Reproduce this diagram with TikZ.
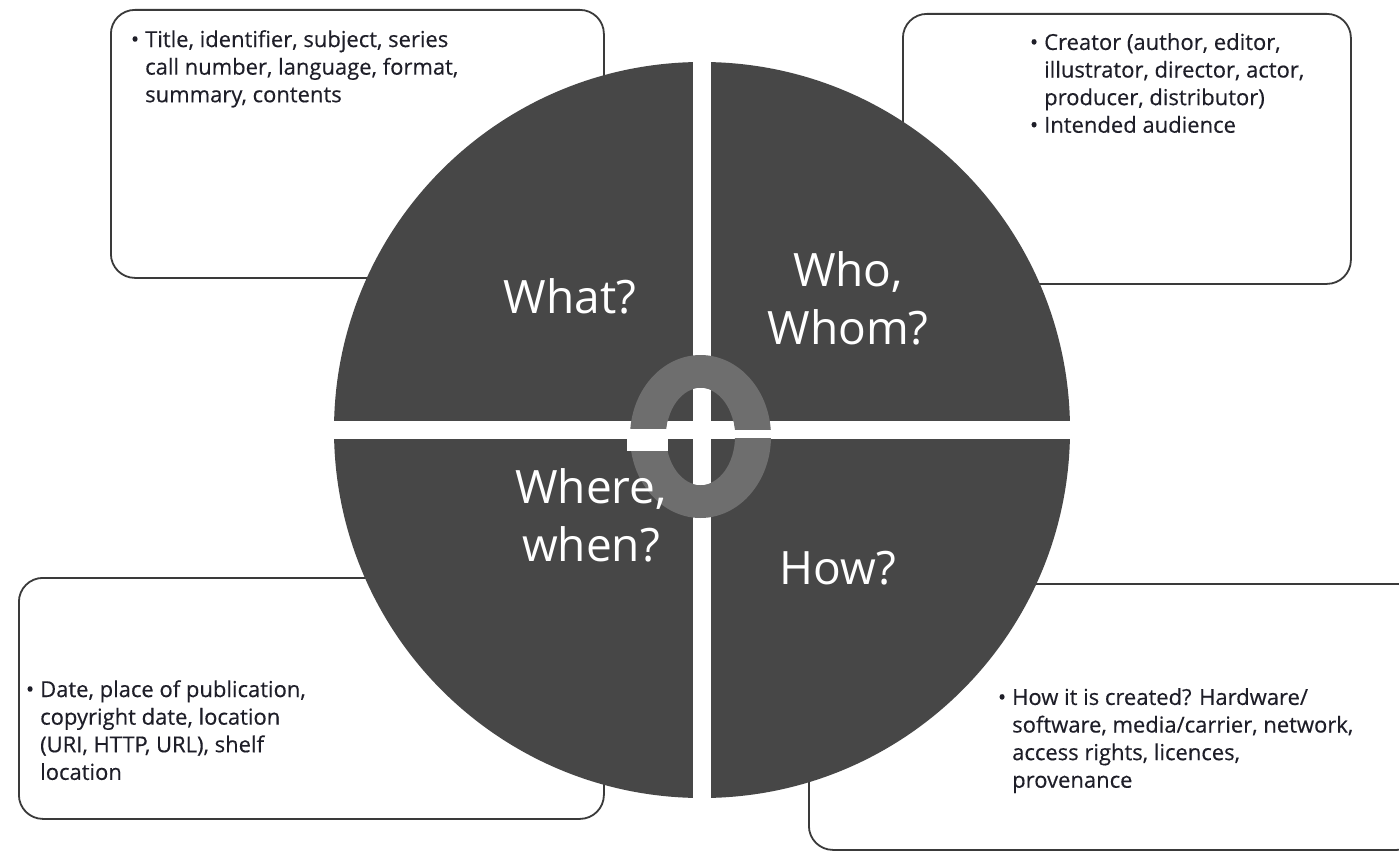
\documentclass[tikz,border=0pt]{standalone}
\usepackage{fontspec}
\setmainfont{Open Sans}
\newfontfamily\boxfont[FakeBold=0.35]{Open Sans}
\definecolor{quad}{HTML}{474747}
\definecolor{ringc}{HTML}{6E6E6E}
\definecolor{framec}{HTML}{3A3A3A}
\definecolor{txt}{HTML}{1E1E28}
\newcommand{\bl}{\llap{\textbullet\hspace{6pt}}}
\begin{document}
\begin{tikzpicture}[x=1pt,y=-1pt,
  infobox/.style={draw=framec, line width=1.8pt, rounded corners=24pt, fill=white, anchor=north west, inner sep=0pt},
  infotext/.style={anchor=north west, inner sep=0pt, align=left, text=txt, font=\boxfont\fontsize{22}{27.6}\selectfont},
  qlabel/.style={text=white, align=center, inner sep=0pt, font=\fontsize{46}{58}\selectfont}]
\useasboundingbox (0,0) rectangle (1399,851);
\fill[white] (0,0) rectangle (1399,851);
% boxes
\node[infobox, minimum width=493pt, minimum height=268pt] (b1) at (110,9) {};
\node[infobox, minimum width=448pt, minimum height=270pt] (b2) at (902,13) {};
\node[infobox, minimum width=585pt, minimum height=241pt] (b3) at (18,577) {};
\node[infobox, minimum width=612pt, minimum height=266pt] (b4) at (808,583) {};
% texts
\node[infotext] (t1) at (145,30) {\bl Title, identifier, subject, series\\call number, language, format,\\summary, contents};
\node[infotext] (t2) at (1044,33) {\bl Creator (author, editor,\\illustrator, director, actor,\\producer, distributor)\\\bl Intended audience};
\node[infotext] (t3) at (40,680) {\bl Date, place of publication,\\copyright date, location\\(URI, HTTP, URL), shelf\\location};
\node[infotext] (t4) at (1012,688) {\bl How it is created? Hardware/\\software, media/carrier, network,\\access rights, licences,\\provenance};
% circle of four quadrants
\fill[quad] (702,430) circle (368pt);
\fill[white] (693,40) rectangle (711,820);
\fill[white] (320,421) rectangle (1085,439);
% centre ring
\fill[ringc, even odd rule] (700.5,436.5) ellipse [x radius=70.5pt, y radius=81.5pt]
  (700.5,436.5) ellipse [x radius=34.5pt, y radius=48.5pt];
\fill[white] (627,429) rectangle (668,451);
\fill[white] (733,430) rectangle (774,438);
\begin{scope}
  \clip (700.5,436.5) ellipse [x radius=34.5pt, y radius=48.5pt];
  \fill[white] (600,421) rectangle (800,438);
  \fill[white] (693,300) rectangle (711,600);
\end{scope}
% labels
\node[qlabel] (what) at (570,296) {What?};
\node[qlabel] (who) at (848,298) {Who,\\Whom?};
\node[qlabel] (where) at (591,515) {Where,\\when?};
\node[qlabel] (how) at (838,568) {How?};
\end{tikzpicture}
\end{document}
